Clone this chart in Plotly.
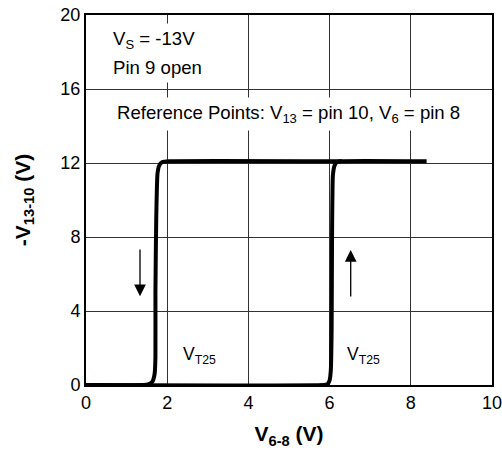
import plotly.graph_objects as go

# Rising branch (increasing V6-8)
rise_x = [0.0, 5.85, 5.95, 6.00, 6.03, 6.05, 6.06, 6.08, 6.12, 6.18, 6.28, 8.39]
rise_y = [0.0, 0.0, 0.05, 0.25, 0.8, 3.0, 8.0, 11.3, 11.85, 12.05, 12.1, 12.1]

# Falling branch (decreasing V6-8)
fall_x = [6.3, 2.05, 1.88, 1.80, 1.76, 1.73, 1.71, 1.71, 1.69, 1.64, 1.55, 1.40, 0.0]
fall_y = [12.1, 12.1, 12.05, 11.85, 11.4, 9.0, 5.0, 1.5, 0.6, 0.2, 0.05, 0.0, 0.0]

x_ticks = [0, 2, 4, 6, 8, 10]
y_ticks = [0, 4, 8, 12, 16, 20]

FONT = "Liberation Sans, Arial, sans-serif"

fig = go.Figure()
for xs, ys in [(rise_x, rise_y), (fall_x, fall_y)]:
    fig.add_trace(go.Scatter(x=xs, y=ys, mode="lines",
                             line=dict(color="black", width=4, shape="spline", smoothing=0.4),
                             showlegend=False, hoverinfo="skip"))

annotations = [
    dict(x=0.55, y=18.65, text="V<sub>S</sub> = -13V", showarrow=False, xanchor="left",
         yanchor="middle", bgcolor="white", borderpad=4, font=dict(size=18.6)),
    dict(x=0.55, y=17.15, text="Pin 9 open", showarrow=False, xanchor="left",
         yanchor="middle", bgcolor="white", borderpad=4, font=dict(size=18.6)),
    dict(x=4.98, y=14.65, text="Reference Points: V<sub>13</sub> = pin 10, V<sub>6</sub> = pin 8",
         showarrow=False, xanchor="center", yanchor="middle", bgcolor="white", borderpad=4,
         font=dict(size=18.6)),
    dict(x=2.33, y=1.6, text="V<sub>T25</sub>", showarrow=False, xanchor="left", yanchor="middle",
         font=dict(size=17.5)),
    dict(x=6.37, y=1.6, text="V<sub>T25</sub>", showarrow=False, xanchor="left", yanchor="middle",
         font=dict(size=17.5)),
    dict(x=1.33, y=4.8, ax=1.33, ay=7.4, xref="x", yref="y", axref="x", ayref="y",
         text="", showarrow=True, arrowhead=2, arrowsize=1.8, arrowwidth=1.3, arrowcolor="black"),
    dict(x=6.52, y=7.3, ax=6.52, ay=4.7, xref="x", yref="y", axref="x", ayref="y",
         text="", showarrow=True, arrowhead=2, arrowsize=1.8, arrowwidth=1.3, arrowcolor="black"),
]

fig.update_layout(
    width=502, height=454,
    margin=dict(l=86, r=10, t=15, b=69, autoexpand=False),
    paper_bgcolor="white", plot_bgcolor="white",
    font=dict(family=FONT, size=18, color="black"),
    annotations=annotations,
    xaxis=dict(range=[0, 10], tickvals=x_ticks, ticktext=[str(v) for v in x_ticks],
               showgrid=True, gridcolor="#333", gridwidth=1, zeroline=False,
               showline=True, linecolor="black", linewidth=2, mirror=True,
               ticks="", tickfont=dict(size=18), automargin=False, ticklabeloverflow="allow",
               title=dict(text="<b>V<sub>6-8</sub> (V)</b>", font=dict(size=21), standoff=15)),
    yaxis=dict(range=[0, 20], tickvals=y_ticks, ticktext=[str(v) for v in y_ticks],
               showgrid=True, gridcolor="#333", gridwidth=1, zeroline=False,
               showline=True, linecolor="black", linewidth=2, mirror=True,
               ticks="", tickfont=dict(size=18), automargin=False, ticklabeloverflow="allow",
               title=dict(text="<b>-V<sub>13-10</sub> (V)</b>", font=dict(size=21), standoff=24)),
)

fig.write_html("out.html", config={"displayModeBar": False},
               post_script="document.body.style.margin='0';document.body.style.overflow='hidden';")
